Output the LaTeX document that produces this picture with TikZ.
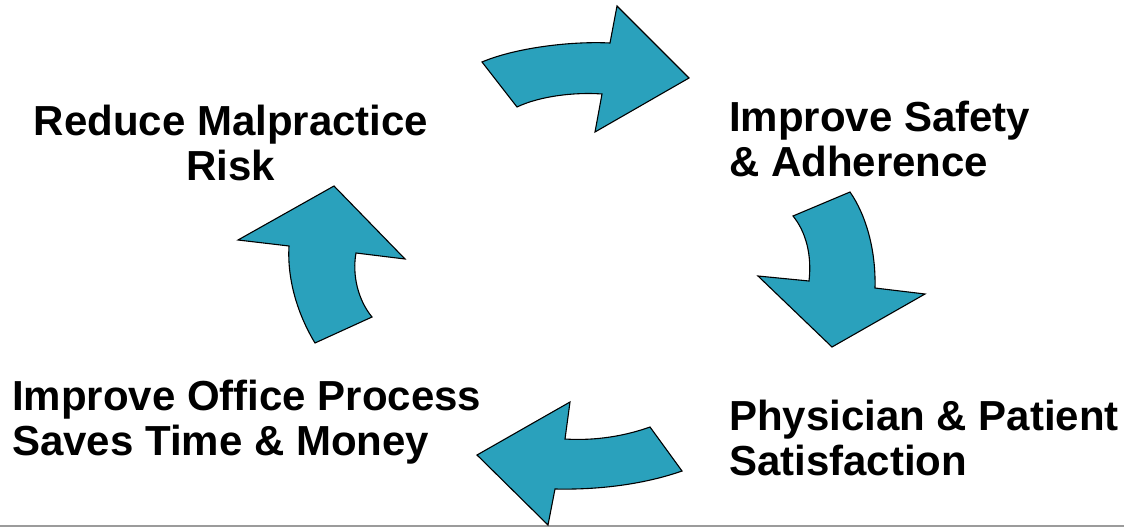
\documentclass[tikz,border=0pt]{standalone}
\usepackage{fontspec}
\setmainfont{Liberation Sans}
\begin{document}
\begin{tikzpicture}[x=1pt,y=-1pt,
  cyclearrow/.style={fill=arrowteal,draw=black,line width=1.1pt,line join=miter},
  label/.style={inner sep=0pt,font=\fontsize{42}{45}\selectfont\bfseries,text=black}]
\definecolor{arrowteal}{RGB}{42,161,188}
\definecolor{rulegray}{RGB}{155,155,155}
% canvas
\fill[white] (0,0) rectangle (1124,527);
\useasboundingbox (0,0) rectangle (1124,527);
% bottom rule
\draw[rulegray,line width=2.5pt] (0,526) -- (1124,526);

% labels (anchored on the baseline of their last line)
\node[label,align=center,anchor=base] (risk) at (231,180) {Reduce Malpractice\\Risk};
\node[label,align=left,anchor=base west] (safety) at (729,176) {Improve Safety\\\& Adherence};
\node[label,align=left,anchor=base west] (satis) at (729,475) {Physician \& Patient\\Satisfaction};
\node[label,align=left,anchor=base west] (office) at (12,455) {Improve Office Process\\Saves Time \& Money};

% top arrow, pointing right
\draw[cyclearrow] (482,62) .. controls (515,48) and (570,41) .. (610,43)
  -- (617,6) -- (689,78) -- (595,132) -- (602,94)
  .. controls (575,92) and (540,96) .. (517,107) -- cycle;
% right arrow, pointing down
\draw[cyclearrow] (793,216) -- (850,192)
  .. controls (866,215) and (876,250) .. (875,288)
  -- (925,294) -- (832,347) -- (758,276) -- (809,281)
  .. controls (812,255) and (806,232) .. (793,216) -- cycle;
% bottom arrow, pointing left
\draw[cyclearrow] (650,427) .. controls (625,436) and (595,441) .. (565,439)
  -- (570,402) -- (477,455) -- (548,525) -- (555,489)
  .. controls (600,490) and (645,484) .. (682,471) -- cycle;
% left arrow, pointing up
\draw[cyclearrow] (334,186) -- (405,259) -- (356,253)
  .. controls (352,275) and (358,300) .. (372,317)
  -- (315,343)
  .. controls (298,315) and (287,280) .. (289,246)
  -- (238,240) -- cycle;
\end{tikzpicture}
\end{document}
